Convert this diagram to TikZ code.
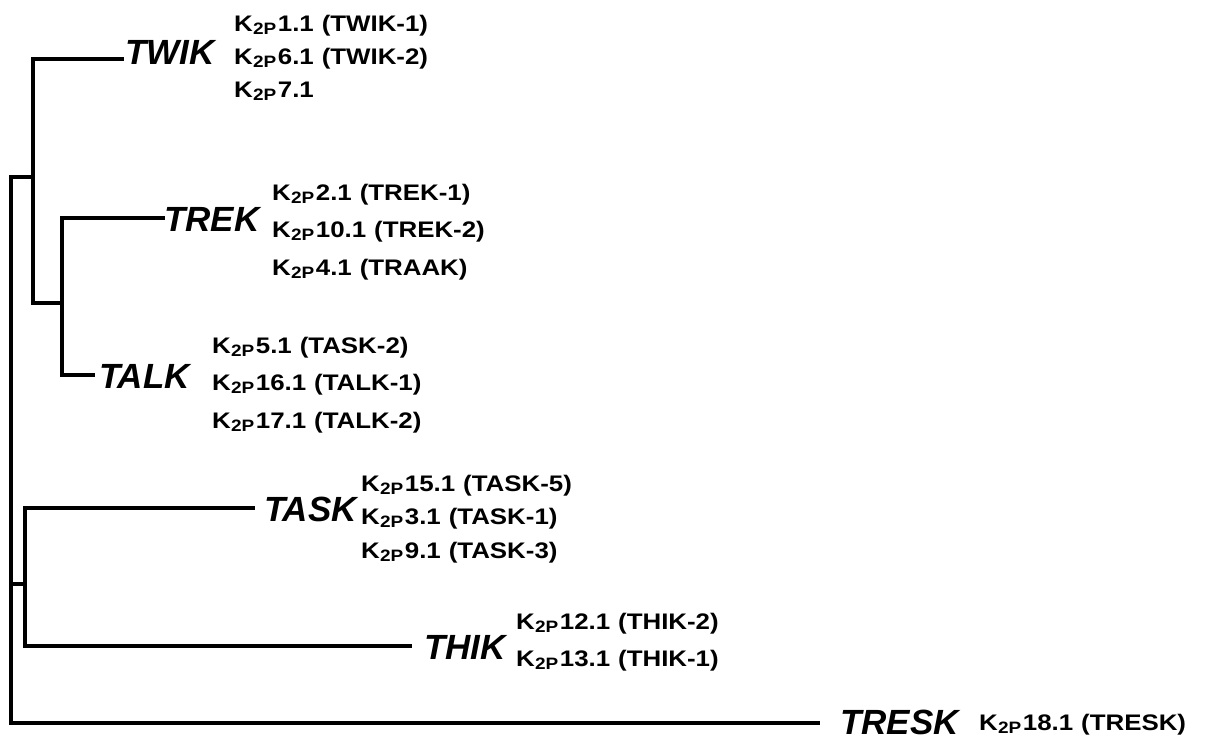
\documentclass[tikz,border=0pt]{standalone}
\usepackage{fontspec}
\setmainfont{Liberation Sans}
\newfontfamily\labfont[FakeStretch=1.15,WordSpace=1.1]{Liberation Sans}
\newcommand{\kp}[1]{K\kern0.3pt\raisebox{-3.8pt}{\fontsize{16.5}{16.5}\selectfont 2P}\kern1.5pt #1}
\tikzset{
  branch/.style={line width=4pt, line cap=rect, line join=miter},
  grp/.style={inner sep=0pt, anchor=base west, font=\fontsize{35}{35}\selectfont\bfseries\itshape},
  mem/.style={inner sep=0pt, anchor=base west, font=\labfont\fontsize{22.5}{22.5}\selectfont\bfseries},
}
\begin{document}
\begin{tikzpicture}[x=1pt,y=-1pt]
\useasboundingbox (0,0) rectangle (1207,740);
% branch ends
\coordinate (twE) at (122,59);
\coordinate (trE) at (163,218);
\coordinate (taE) at (93,375);
\coordinate (tsE) at (253,508);
\coordinate (thE) at (410,646);
\coordinate (reE) at (818,723);
% internal nodes
\coordinate (c) at (62,303);
\coordinate (a) at (33,177);
\coordinate (b) at (25,584);
\coordinate (r) at (11,584);
% tree
\draw[branch] (trE) -| (c) |- (taE);
\draw[branch] (twE) -| (a) |- (c);
\draw[branch] (tsE) -| (b) |- (thE);
\draw[branch] (a) -| (r) |- (reE);
\draw[branch] (r) -- (b);
% group labels
\node[grp] (twik) at (125,64) {TWIK};
\node[grp] (trek) at (164,231) {TREK};
\node[grp] (talk) at (99,388) {TALK};
\node[grp] (task) at (264,521) {TASK};
\node[grp] (thik) at (424,659) {THIK};
\node[grp] (tresk) at (840,734) {TRESK};
% members
\node[mem] (tw1) at (234,31) {\kp{1.1 (TWIK-1)}};
\node[mem] (tw2) at (234,64) {\kp{6.1 (TWIK-2)}};
\node[mem] (tw3) at (234,97) {\kp{7.1}};
\node[mem] (tr1) at (272,200) {\kp{2.1 (TREK-1)}};
\node[mem] (tr2) at (272,237) {\kp{10.1 (TREK-2)}};
\node[mem] (tr3) at (272,275) {\kp{4.1 (TRAAK)}};
\node[mem] (ta1) at (212,353) {\kp{5.1 (TASK-2)}};
\node[mem] (ta2) at (212,390) {\kp{16.1 (TALK-1)}};
\node[mem] (ta3) at (212,428) {\kp{17.1 (TALK-2)}};
\node[mem] (ts1) at (361,491) {\kp{15.1 (TASK-5)}};
\node[mem] (ts2) at (361,524) {\kp{3.1 (TASK-1)}};
\node[mem] (ts3) at (361,558) {\kp{9.1 (TASK-3)}};
\node[mem] (th1) at (516,629) {\kp{12.1 (THIK-2)}};
\node[mem] (th2) at (516,666) {\kp{13.1 (THIK-1)}};
\node[mem] (re1) at (979,730) {\kp{18.1 (TRESK)}};
\end{tikzpicture}
\end{document}
